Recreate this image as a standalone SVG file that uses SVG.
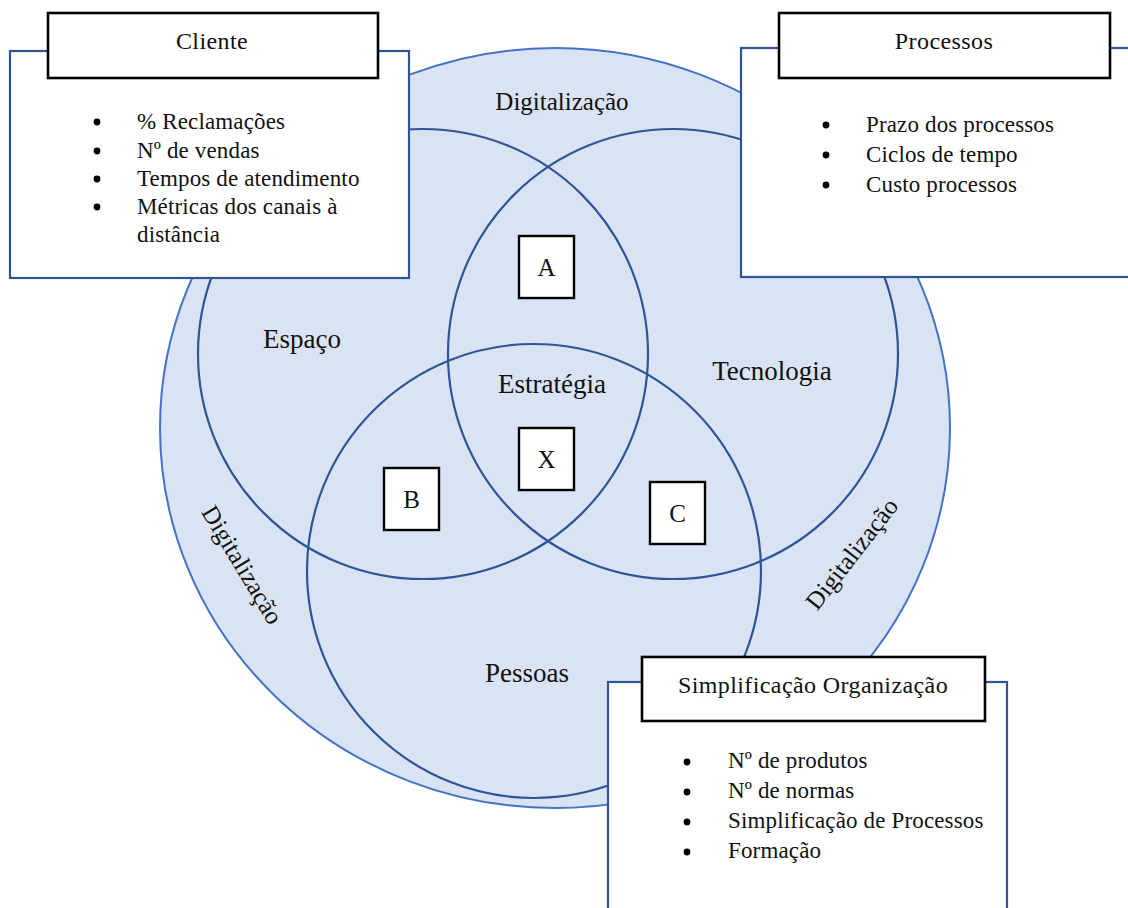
<svg xmlns="http://www.w3.org/2000/svg" width="1128" height="908" viewBox="0 0 1128 908">
  <style>
    text { font-family: "Liberation Serif", "Times New Roman", serif; fill: #111; }
    .ring { fill: #DAE3F3; stroke: #4472C4; stroke-width: 2; }
    .venn { fill: none; stroke: #2F5597; stroke-width: 2.2; }
    .card { fill: #fff; stroke: #2F5597; stroke-width: 2.2; }
    .head { fill: #fff; stroke: #000; stroke-width: 2.6; }
    .tag { fill: #fff; stroke: #000; stroke-width: 2.4; }
    .label { font-size: 27px; text-anchor: middle; }
    .dig { font-size: 25px; text-anchor: middle; }
    .title { font-size: 24px; text-anchor: middle; letter-spacing: 0.4px; }
    .item { font-size: 23px; letter-spacing: 0.15px; }
    .letter { font-size: 25px; text-anchor: middle; }
    .dot { fill: #000; }
  </style>

  <!-- outer digitalisation ring -->
  <g id="ring-digitalizacao">
    <ellipse class="ring" cx="555" cy="428" rx="395" ry="380"/>
    <text class="dig" x="562" y="110">Digitalização</text>
    <text class="dig" transform="translate(242,565) rotate(59)" x="0" y="8">Digitalização</text>
    <text class="dig" transform="translate(852,554) rotate(-52)" x="0" y="8">Digitalização</text>
  </g>

  <!-- three overlapping areas -->
  <g id="circle-espaco">
    <circle class="venn" cx="423" cy="354" r="225"/>
    <text class="label" x="302" y="348">Espaço</text>
  </g>
  <g id="circle-tecnologia">
    <circle class="venn" cx="673" cy="354" r="225"/>
    <text class="label" x="772" y="380">Tecnologia</text>
  </g>
  <g id="circle-pessoas">
    <circle class="venn" cx="534" cy="571" r="227"/>
    <text class="label" x="527" y="682">Pessoas</text>
  </g>
  <g id="center-estrategia">
    <text class="label" x="552" y="393">Estratégia</text>
  </g>

  <!-- overlap markers -->
  <g id="tag-a">
    <rect class="tag" x="519" y="236" width="55" height="62"/>
    <text class="letter" x="546.5" y="276">A</text>
  </g>
  <g id="tag-x">
    <rect class="tag" x="519" y="428" width="55" height="62"/>
    <text class="letter" x="546.5" y="468">X</text>
  </g>
  <g id="tag-b">
    <rect class="tag" x="384" y="468" width="55" height="62"/>
    <text class="letter" x="411.5" y="508">B</text>
  </g>
  <g id="tag-c">
    <rect class="tag" x="650" y="482" width="55" height="62"/>
    <text class="letter" x="677.5" y="522">C</text>
  </g>

  <!-- Cliente card -->
  <g id="card-cliente">
    <rect class="card" x="10" y="51" width="399" height="227"/>
    <rect class="head" x="48" y="13" width="330" height="65"/>
    <text class="title" x="212" y="49">Cliente</text>
    <circle class="dot" cx="97" cy="122" r="3.4"/>
    <circle class="dot" cx="97" cy="151" r="3.4"/>
    <circle class="dot" cx="97" cy="179" r="3.4"/>
    <circle class="dot" cx="97" cy="207" r="3.4"/>
    <text class="item" x="137" y="129">% Reclamações</text>
    <text class="item" x="137" y="158">Nº de vendas</text>
    <text class="item" x="137" y="186">Tempos de atendimento</text>
    <text class="item" x="137" y="214">Métricas dos canais à</text>
    <text class="item" x="137" y="242">distância</text>
  </g>

  <!-- Processos card -->
  <g id="card-processos">
    <rect class="card" x="741" y="48" width="400" height="229"/>
    <rect class="head" x="779" y="13" width="331" height="65"/>
    <text class="title" x="944" y="49">Processos</text>
    <circle class="dot" cx="826" cy="125" r="3.4"/>
    <circle class="dot" cx="826" cy="155" r="3.4"/>
    <circle class="dot" cx="826" cy="185" r="3.4"/>
    <text class="item" x="866" y="132">Prazo dos processos</text>
    <text class="item" x="866" y="162">Ciclos de tempo</text>
    <text class="item" x="866" y="192">Custo processos</text>
  </g>

  <!-- Simplificação Organização card -->
  <g id="card-simplificacao">
    <rect class="card" x="608" y="682" width="399" height="240"/>
    <rect class="head" x="642" y="657" width="343" height="64"/>
    <text class="title" x="813" y="693">Simplificação Organização</text>
    <circle class="dot" cx="687" cy="762" r="3.4"/>
    <circle class="dot" cx="687" cy="792" r="3.4"/>
    <circle class="dot" cx="687" cy="822" r="3.4"/>
    <circle class="dot" cx="687" cy="852" r="3.4"/>
    <text class="item" x="728" y="768">Nº de produtos</text>
    <text class="item" x="728" y="798">Nº de normas</text>
    <text class="item" x="728" y="828">Simplificação de Processos</text>
    <text class="item" x="728" y="858">Formação</text>
  </g>
</svg>
